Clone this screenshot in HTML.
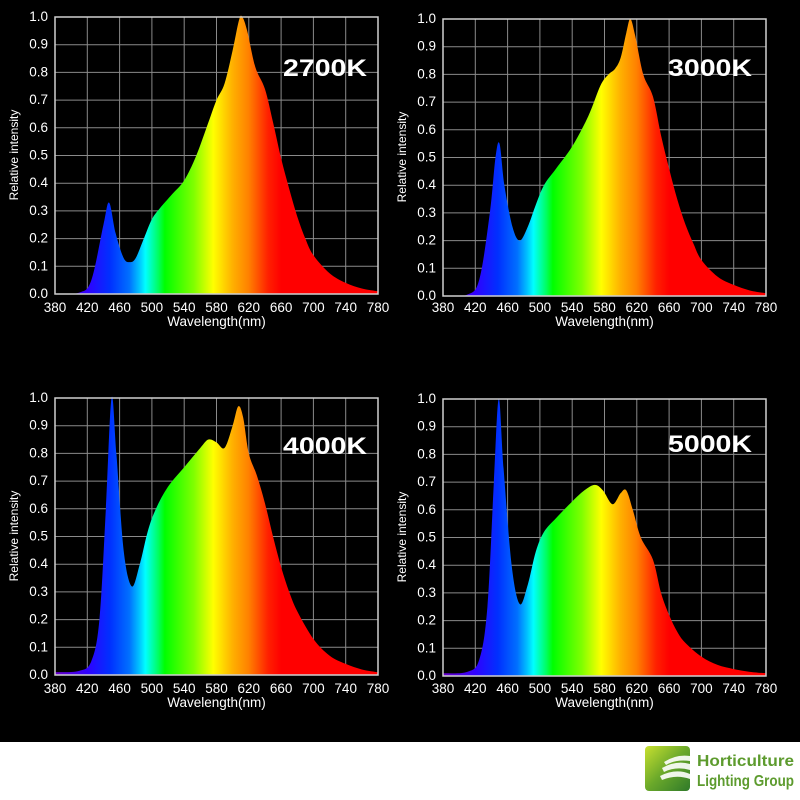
<!DOCTYPE html>
<html><head><meta charset="utf-8"><style>
html,body{margin:0;padding:0;background:#fff;}
svg{display:block;font-family:"Liberation Sans",sans-serif;}
</style></head><body>
<svg id="s" width="800" height="800" viewBox="0 0 800 800" xmlns="http://www.w3.org/2000/svg">
<defs>
<linearGradient id="spec" gradientUnits="userSpaceOnUse" x1="0" y1="0" x2="323" y2="0">
<stop offset="0" stop-color="#6a00c8"/>
<stop offset="0.1" stop-color="#3000ff"/>
<stop offset="0.17" stop-color="#0030ff"/>
<stop offset="0.23" stop-color="#0070ff"/>
<stop offset="0.26" stop-color="#00c0ff"/>
<stop offset="0.28" stop-color="#00ffff"/>
<stop offset="0.32" stop-color="#00ff60"/>
<stop offset="0.34" stop-color="#00ff00"/>
<stop offset="0.43" stop-color="#80ff00"/>
<stop offset="0.49" stop-color="#ffff00"/>
<stop offset="0.55" stop-color="#ffb000"/>
<stop offset="0.6" stop-color="#ff8000"/>
<stop offset="0.66" stop-color="#ff2000"/>
<stop offset="0.7" stop-color="#ff0000"/>
<stop offset="1" stop-color="#ff0000"/>
</linearGradient>
<linearGradient id="logo" x1="0" y1="0" x2="1" y2="1">
<stop offset="0" stop-color="#c8e030"/><stop offset="0.5" stop-color="#6aa82a"/><stop offset="1" stop-color="#2f7a2a"/>
</linearGradient>
</defs>
<rect x="0" y="0" width="800" height="742" fill="#000"/>
<rect x="0" y="742" width="800" height="58" fill="#fff"/>

<g id="c0" transform="translate(55,17)"></g>
<g id="c1" transform="translate(443,19)"></g>
<g id="c2" transform="translate(55,398)"></g>
<g id="c3" transform="translate(443,399)"></g>

<g font-size="13.5" fill="#fff">
<g transform="translate(55,17)">
<g text-anchor="end"><text x="-7" y="4">1.0</text><text x="-7" y="31.7">0.9</text><text x="-7" y="59.4">0.8</text><text x="-7" y="87.1">0.7</text><text x="-7" y="114.8">0.6</text><text x="-7" y="142.5">0.5</text><text x="-7" y="170.2">0.4</text><text x="-7" y="197.9">0.3</text><text x="-7" y="225.6">0.2</text><text x="-7" y="253.3">0.1</text><text x="-7" y="281">0.0</text></g>
<g text-anchor="middle"><text x="0" y="295">380</text><text x="32.3" y="295">420</text><text x="64.6" y="295">460</text><text x="96.9" y="295">500</text><text x="129.2" y="295">540</text><text x="161.5" y="295">580</text><text x="193.8" y="295">620</text><text x="226.1" y="295">660</text><text x="258.4" y="295">700</text><text x="290.7" y="295">740</text><text x="323" y="295">780</text>
<text x="161.5" y="309">Wavelength(nm)</text>
<text transform="translate(-37,138) rotate(-90)" font-size="12">Relative intensity</text></g>
<text x="228" y="59" font-size="24" font-weight="bold" textLength="84" lengthAdjust="spacingAndGlyphs">2700K</text>
</g>
<g transform="translate(443,19)">
<g text-anchor="end"><text x="-7" y="4">1.0</text><text x="-7" y="31.7">0.9</text><text x="-7" y="59.4">0.8</text><text x="-7" y="87.1">0.7</text><text x="-7" y="114.8">0.6</text><text x="-7" y="142.5">0.5</text><text x="-7" y="170.2">0.4</text><text x="-7" y="197.9">0.3</text><text x="-7" y="225.6">0.2</text><text x="-7" y="253.3">0.1</text><text x="-7" y="281">0.0</text></g>
<g text-anchor="middle"><text x="0" y="293">380</text><text x="32.3" y="293">420</text><text x="64.6" y="293">460</text><text x="96.9" y="293">500</text><text x="129.2" y="293">540</text><text x="161.5" y="293">580</text><text x="193.8" y="293">620</text><text x="226.1" y="293">660</text><text x="258.4" y="293">700</text><text x="290.7" y="293">740</text><text x="323" y="293">780</text>
<text x="161.5" y="307">Wavelength(nm)</text>
<text transform="translate(-37,138) rotate(-90)" font-size="12">Relative intensity</text></g>
<text x="225" y="57" font-size="24" font-weight="bold" textLength="84" lengthAdjust="spacingAndGlyphs">3000K</text>
</g>
<g transform="translate(55,398)">
<g text-anchor="end"><text x="-7" y="4">1.0</text><text x="-7" y="31.7">0.9</text><text x="-7" y="59.4">0.8</text><text x="-7" y="87.1">0.7</text><text x="-7" y="114.8">0.6</text><text x="-7" y="142.5">0.5</text><text x="-7" y="170.2">0.4</text><text x="-7" y="197.9">0.3</text><text x="-7" y="225.6">0.2</text><text x="-7" y="253.3">0.1</text><text x="-7" y="281">0.0</text></g>
<g text-anchor="middle"><text x="0" y="295">380</text><text x="32.3" y="295">420</text><text x="64.6" y="295">460</text><text x="96.9" y="295">500</text><text x="129.2" y="295">540</text><text x="161.5" y="295">580</text><text x="193.8" y="295">620</text><text x="226.1" y="295">660</text><text x="258.4" y="295">700</text><text x="290.7" y="295">740</text><text x="323" y="295">780</text>
<text x="161.5" y="309">Wavelength(nm)</text>
<text transform="translate(-37,138) rotate(-90)" font-size="12">Relative intensity</text></g>
<text x="228" y="56" font-size="24" font-weight="bold" textLength="84" lengthAdjust="spacingAndGlyphs">4000K</text>
</g>
<g transform="translate(443,399)">
<g text-anchor="end"><text x="-7" y="4">1.0</text><text x="-7" y="31.7">0.9</text><text x="-7" y="59.4">0.8</text><text x="-7" y="87.1">0.7</text><text x="-7" y="114.8">0.6</text><text x="-7" y="142.5">0.5</text><text x="-7" y="170.2">0.4</text><text x="-7" y="197.9">0.3</text><text x="-7" y="225.6">0.2</text><text x="-7" y="253.3">0.1</text><text x="-7" y="281">0.0</text></g>
<g text-anchor="middle"><text x="0" y="294">380</text><text x="32.3" y="294">420</text><text x="64.6" y="294">460</text><text x="96.9" y="294">500</text><text x="129.2" y="294">540</text><text x="161.5" y="294">580</text><text x="193.8" y="294">620</text><text x="226.1" y="294">660</text><text x="258.4" y="294">700</text><text x="290.7" y="294">740</text><text x="323" y="294">780</text>
<text x="161.5" y="308">Wavelength(nm)</text>
<text transform="translate(-37,138) rotate(-90)" font-size="12">Relative intensity</text></g>
<text x="225" y="53" font-size="24" font-weight="bold" textLength="84" lengthAdjust="spacingAndGlyphs">5000K</text>
</g>
</g>

<g>
<rect x="645" y="746" width="45" height="45" rx="4" fill="url(#logo)"/>
<path d="M662 768 Q676 760 690 764 L690 770 Q676 766 664 772 Z M660 776 Q676 768 690 774 L690 779 Q676 774 662 780 Z M664 762 Q676 754 690 756 L690 761 Q676 759 666 765 Z" fill="#fff" opacity="0.9"/>
<text x="697" y="766" font-size="16" font-weight="bold" fill="#5d9b2e" textLength="97" lengthAdjust="spacingAndGlyphs">Horticulture</text>
<text x="697" y="786" font-size="16" font-weight="bold" fill="#5d9b2e" textLength="97" lengthAdjust="spacingAndGlyphs">Lighting Group</text>
</g>
</svg>
<script>
var W=323,H=277;
var data=[
[[380,0],[410,0.005],[425,0.05],[440,0.25],[447,0.33],[455,0.22],[465,0.13],[473,0.115],[480,0.13],[490,0.2],[500,0.27],[510,0.31],[525,0.36],[540,0.41],[555,0.5],[570,0.62],[580,0.7],[590,0.76],[600,0.88],[608,0.99],[612,1.0],[618,0.95],[628,0.82],[640,0.74],[650,0.62],[660,0.49],[670,0.38],[680,0.28],[690,0.2],[700,0.14],[720,0.075],[740,0.04],[760,0.02],[780,0.01]],
[[380,0],[410,0.005],[425,0.06],[438,0.3],[445,0.5],[450,0.55],[456,0.4],[466,0.25],[475,0.2],[485,0.25],[495,0.33],[505,0.4],[520,0.46],[540,0.54],[560,0.65],[575,0.76],[585,0.8],[593,0.82],[600,0.86],[607,0.95],[612,1.0],[618,0.94],[628,0.8],[640,0.72],[650,0.58],[660,0.46],[670,0.35],[680,0.26],[690,0.19],[700,0.13],[720,0.07],[740,0.04],[760,0.02],[780,0.01]],
[[380,0.01],[410,0.015],[425,0.05],[435,0.2],[443,0.6],[450,1.0],[456,0.8],[465,0.45],[475,0.32],[485,0.4],[495,0.52],[505,0.6],[520,0.68],[540,0.75],[560,0.82],[570,0.85],[580,0.84],[590,0.82],[600,0.9],[607,0.97],[613,0.93],[620,0.8],[630,0.72],[640,0.62],[650,0.5],[660,0.39],[670,0.3],[680,0.23],[700,0.13],[720,0.07],[740,0.04],[760,0.02],[780,0.01]],
[[380,0.01],[410,0.015],[425,0.06],[435,0.25],[443,0.7],[449,1.0],[455,0.75],[465,0.4],[475,0.26],[485,0.33],[495,0.45],[505,0.52],[520,0.57],[540,0.63],[555,0.67],[568,0.69],[578,0.67],[590,0.62],[600,0.66],[607,0.67],[615,0.6],[625,0.5],[640,0.42],[650,0.3],[660,0.22],[670,0.16],[680,0.12],[700,0.07],[720,0.04],[740,0.025],[760,0.015],[780,0.01]]
];
function X(n){return (n-380)/400*W}function Y(v){return H-v*H}
for(var c=0;c<4;c++){
 var g=document.getElementById("c"+c),s="";
 var p=data[c].map(function(d){return [X(d[0]),Y(d[1])]});
 var d="M0,"+H+" L"+p[0][0]+","+p[0][1];
 for(var i=0;i<p.length-1;i++){
  var p0=p[Math.max(0,i-1)],p1=p[i],p2=p[i+1],p3=p[Math.min(p.length-1,i+2)];
  var c1x=p1[0]+(p2[0]-p0[0])/6,c1y=p1[1]+(p2[1]-p0[1])/6,c2x=p2[0]-(p3[0]-p1[0])/6,c2y=p2[1]-(p3[1]-p1[1])/6;
  d+=" C"+c1x+","+c1y+" "+c2x+","+c2y+" "+p2[0]+","+p2[1];
 }
 d+=" L"+W+","+H+" Z";
 for(var k=1;k<10;k++){s+='<line x1="'+(k*W/10)+'" y1="0" x2="'+(k*W/10)+'" y2="'+H+'" stroke="#8a8a8a" stroke-width="1"/>';s+='<line x1="0" y1="'+(k*H/10)+'" x2="'+W+'" y2="'+(k*H/10)+'" stroke="#8a8a8a" stroke-width="1"/>';}
 s+='<path d="'+d+'" fill="url(#spec)"/>';
 s+='<rect x="0" y="0" width="'+W+'" height="'+H+'" fill="none" stroke="#d0d0d0" stroke-width="1.5"/>';
 g.innerHTML=s;
}
</script>
</body></html>
